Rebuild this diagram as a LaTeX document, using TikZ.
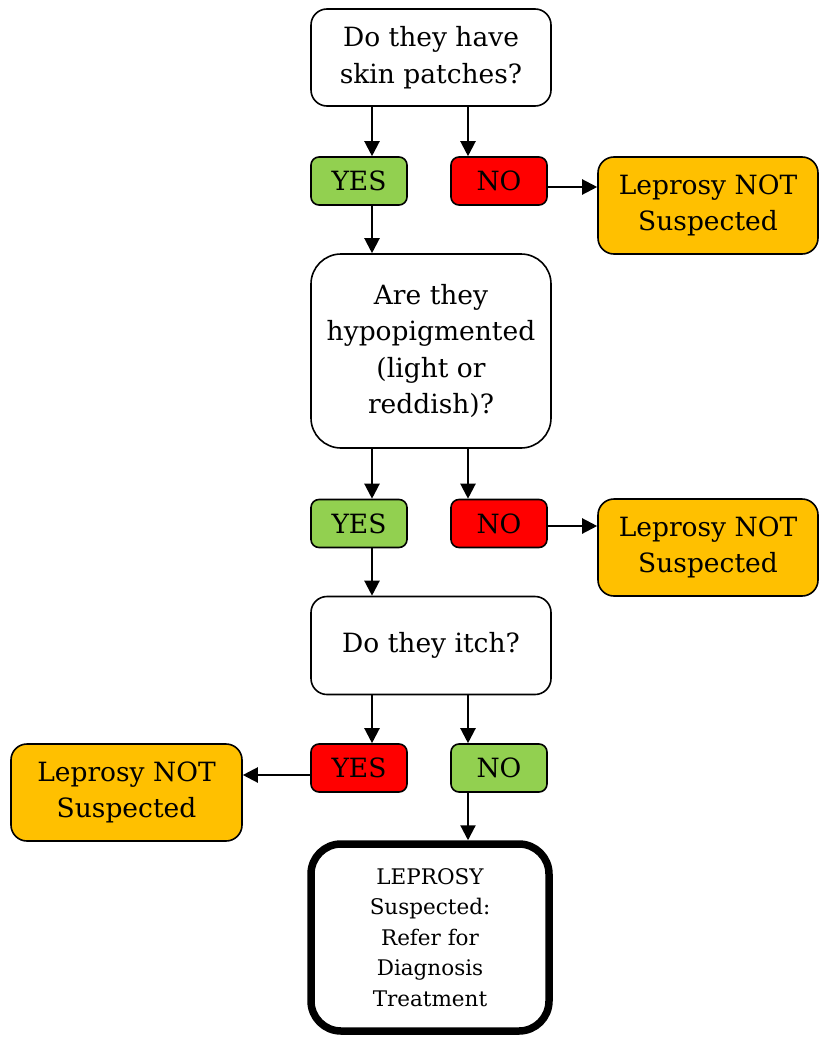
\documentclass[tikz,border=0pt]{standalone}
\usepackage{fontspec}
\setmainfont{DejaVu Serif}
\usetikzlibrary{arrows.meta}
\definecolor{yesgreen}{HTML}{92D050}
\definecolor{nored}{HTML}{FF0000}
\definecolor{outorange}{HTML}{FFC000}
\begin{document}
\begin{tikzpicture}[x=1pt,y=-1pt,
  base/.style={draw=black, line width=1.6pt, align=center, inner sep=0pt,
    font=\fontsize{26.5}{36.5}\selectfont},
  question/.style={base, fill=white, minimum width=240pt, rounded corners=16pt},
  answer/.style={base, minimum width=96pt, minimum height=48pt, rounded corners=8pt},
  outcome/.style={base, fill=outorange, minimum height=97pt, rounded corners=16pt},
  final/.style={base, line width=7.5pt, minimum width=238pt, minimum height=187pt,
    rounded corners=30pt, font=\fontsize{21.5}{30.5}\selectfont},
  arr/.style={line width=2.2pt, -{Triangle[length=15pt,width=15pt]}}]
\useasboundingbox (0,0) rectangle (819,1038);
% questions
\node[question, minimum height=97pt] (q1) at (431,57.5) {Do they have\\skin patches?};
\node[question, minimum height=194pt, rounded corners=30pt] (q2) at (431,351) {Are they\\hypopigmented\\(light or\\reddish)?};
\node[question, minimum height=98pt] (q3) at (431,645.5) {Do they itch?};
% answers
\node[answer, fill=yesgreen] (y1) at (359,181) {YES};
\node[answer, fill=nored] (n1) at (499,181) {NO};
\node[answer, fill=yesgreen] (y2) at (359,523.5) {YES};
\node[answer, fill=nored] (n2) at (499,523.5) {NO};
\node[answer, fill=nored] (y3) at (359,768) {YES};
\node[answer, fill=yesgreen] (n3) at (499,768) {NO};
% outcomes
\node[outcome, minimum width=220pt] (o1) at (708,205.5) {Leprosy NOT\\Suspected};
\node[outcome, minimum width=220pt] (o2) at (708,547.5) {Leprosy NOT\\Suspected};
\node[outcome, minimum width=231pt] (o3) at (126.5,792.5) {Leprosy NOT\\Suspected};
\node[final] (fin) at (430,937.5) {LEPROSY\\Suspected:\\Refer for\\Diagnosis\\Treatment};
% connector columns and rows
\coordinate (cl) at (372,0);
\coordinate (cr) at (468,0);
\coordinate (r1) at (0,187);
\coordinate (r2) at (0,526);
\coordinate (r3) at (0,775);
% connectors
\draw[arr] (q1.south -| cl) -- (y1.north -| cl);
\draw[arr] (q1.south -| cr) -- (n1.north -| cr);
\draw[arr] (n1.east |- r1) -- (o1.west |- r1);
\draw[arr] (y1.south -| cl) -- (q2.north -| cl);
\draw[arr] (q2.south -| cl) -- (y2.north -| cl);
\draw[arr] (q2.south -| cr) -- (n2.north -| cr);
\draw[arr] (n2.east |- r2) -- (o2.west |- r2);
\draw[arr] (y2.south -| cl) -- (q3.north -| cl);
\draw[arr] (q3.south -| cl) -- (y3.north -| cl);
\draw[arr] (q3.south -| cr) -- (n3.north -| cr);
\draw[arr] (y3.west |- r3) -- (o3.east |- r3);
\draw[arr] (n3.south -| cr) -- (fin.north -| cr);
\end{tikzpicture}
\end{document}
